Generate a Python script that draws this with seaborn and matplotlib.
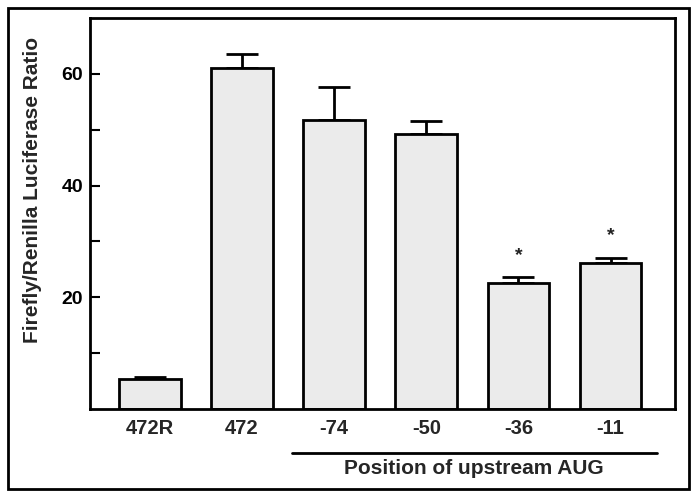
import matplotlib
matplotlib.use("Agg")
import matplotlib.pyplot as plt
import matplotlib.transforms as mtransforms
from matplotlib.patches import Rectangle
import numpy as np
import pandas as pd
import seaborn as sns

# values
constructs = ["472R", "472", "-74", "-50", "-36", "-11"]
ratio = [5.4, 61.1, 51.8, 49.3, 22.5, 26.1]
sem_up = [0.3, 2.5, 5.9, 2.3, 1.1, 1.0]
significant = [False, False, False, False, True, True]
y_ticks = [20, 40, 60]
y_minor = [10, 30, 50]

sns.set_theme(style="white")
plt.rcParams["font.family"] = ["Liberation Sans", "DejaVu Sans"]
plt.rcParams["font.weight"] = "bold"

df = pd.DataFrame({"construct": constructs, "ratio": ratio})

fig = plt.figure(figsize=(6.96, 4.97), dpi=100)
ax = fig.add_axes([90 / 696, 1 - 409 / 497, (675 - 90) / 696, (409 - 18) / 497])

sns.barplot(data=df, x="construct", y="ratio", color="#ebebeb", saturation=1,
            edgecolor="black", linewidth=2, width=0.67, ax=ax, zorder=2)

xpos = np.arange(len(constructs))
ax.errorbar(xpos, ratio, yerr=[np.zeros(len(ratio)), sem_up], fmt="none",
            ecolor="black", elinewidth=2, capsize=11.5, capthick=2, zorder=1)

for x, v, e, sig in zip(xpos, ratio, sem_up, significant):
    if sig:
        ax.text(x, v + e + 3.9, "*", ha="center", va="center", fontsize=14,
                fontweight="bold", color="#222222")

ax.set_xlim(-0.65, 5.7)
ax.set_ylim(0, 70)
ax.set_yticks(y_ticks)
ax.set_yticks(y_minor, minor=True)
ax.set_yticklabels([str(t) for t in y_ticks], fontsize=14, fontweight="bold")
ax.tick_params(axis="y", which="both", direction="in", length=7, width=1.5,
               left=True, pad=5, colors="black")
ax.tick_params(axis="x", length=0, pad=7, labelsize=14.5)
for lbl in ax.get_xticklabels():
    lbl.set_fontweight("bold")
ax.set_xlabel("")
ax.set_ylabel("Firefly/Renilla Luciferase Ratio", fontsize=15, fontweight="bold")
ax.yaxis.set_label_coords(-48 / 585, (409 - 190) / 391)

for sp in ax.spines.values():
    sp.set_visible(True)
    sp.set_color("black")
    sp.set_linewidth(2)

# bracket for the upstream AUG group
trans = mtransforms.blended_transform_factory(ax.transData, ax.transAxes)
ax.plot([1.54, 5.51], [-0.1125, -0.1125], color="black", lw=2,
        transform=trans, clip_on=False)
ax.text(3.52, -0.152, "Position of upstream AUG", transform=trans,
        ha="center", va="center", fontsize=15, fontweight="bold")

# outer frame around the whole figure
fig.patches.append(Rectangle((8 / 696, 8 / 497), (689 - 8) / 696, (489 - 8) / 497,
                             transform=fig.transFigure, fill=False,
                             edgecolor="black", linewidth=2))

fig.savefig("out.png", dpi=100)
